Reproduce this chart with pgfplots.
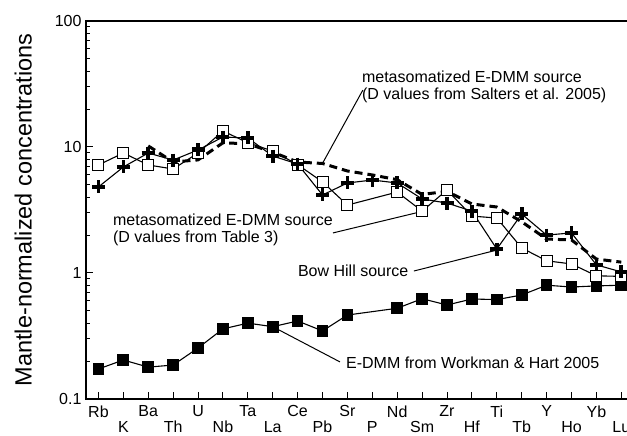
\documentclass[border=0pt]{standalone}
\usepackage{fontspec}
\setmainfont{Liberation Sans}
\usepackage{pgfplots}
\pgfplotsset{compat=1.18}
\usepackage{pgfplotstable}

% Element order: Rb K Ba Th U Nb Ta La Ce Pb Sr P Nd Sm Zr Hf Ti Tb Y Ho Yb Lu  -> 0..21
\pgfplotstableread{
x v
0 4.82
1 6.94
2 8.96
3 7.88
4 9.47
5 12.0
6 11.8
7 8.48
8 7.33
9 4.16
10 5.18
11 5.47
12 5.18
13 3.87
14 3.59
15 3.10
16 1.55
17 2.94
18 2.00
19 2.08
20 1.16
21 1.02
}\bowhill

\pgfplotstableread{
x v
0 7.2
1 8.96
2 7.2
3 6.69
4 8.96
5 13.4
6 10.8
7 9.30
8 7.25
9 5.28
10 3.46
12 4.39
13 3.10
14 4.56
15 2.83
16 2.73
17 1.58
18 1.25
19 1.18
20 0.95
21 0.94
}\tablethree

\pgfplotstableread{
x v
2 10.2
3 7.6
4 7.9
5 10.8
6 10.6
7 9.1
8 7.6
9 7.4
10 6.45
11 6.0
12 5.5
13 4.2
14 4.45
15 3.53
16 3.34
17 2.55
18 1.86
19 1.83
20 1.29
21 1.22
}\salters

\pgfplotstableread{
x v
0 0.173
1 0.204
2 0.179
3 0.186
4 0.254
5 0.36
6 0.40
7 0.375
8 0.416
9 0.347
10 0.464
12 0.525
13 0.625
14 0.557
15 0.622
16 0.615
17 0.669
18 0.80
19 0.774
20 0.79
21 0.80
}\edmm

\newcommand{\lbl}{\fontsize{16}{17}\selectfont}

\begin{document}
\begin{tikzpicture}
\begin{axis}[
  scale only axis, width=546pt, height=378pt,
  ymode=log, ymin=0.1, ymax=100,
  xmin=-0.5, xmax=21.43,
  xtick={0,2,...,20},
  xticklabels={Rb,Ba,U,Ta,Ce,Sr,Nd,Zr,Ti,Y,Yb},
  extra x ticks={1,3,...,21},
  extra x tick labels={K,Th,Nb,La,Pb,P,Sm,Hf,Tb,Ho,Lu},
  extra x tick style={grid=none, xticklabel style={yshift=-15.5pt}},
  ytick={0.1,1,10,100}, yticklabels={0.1,1,10,100},
  xtick pos=bottom, ytick pos=left,
  tick align=inside,
  major tick length=7pt, minor tick length=4.5pt,
  every tick/.style={black, line width=1pt},
  axis line style={line width=1.2pt},
  xticklabel style={font=\lbl, anchor=north, yshift=-3pt},
  yticklabel style={font=\lbl, anchor=east, xshift=-1pt},
  /pgf/number format/assume math mode=true,
  every axis y label/.style={at={(axis description cs:-0.115,0.5)}, rotate=90, anchor=center},
  ylabel={\fontsize{23.5}{26}\selectfont Mantle-normalized concentrations},
  clip=false,
]
% D values from Salters et al. 2005
\addplot[black, line width=3pt, dash pattern=on 8pt off 5pt] table[x=x,y=v] {\salters};
% E-DMM from Workman & Hart 2005
\addplot[black, line width=1.1pt, mark=square*, mark size=5.3pt, mark options={solid, fill=black}] table[x=x,y=v] {\edmm};
% D values from Table 3
\addplot[black, line width=1.1pt, mark=square*, mark size=5.5pt, mark options={solid, fill=white, line width=1pt}] table[x=x,y=v] {\tablethree};
% Bow Hill source
\addplot[black, line width=1.1pt, mark=+, mark size=6.5pt, mark options={solid, line width=3.6pt}] table[x=x,y=v] {\bowhill};

% annotations
\node[anchor=west, align=left, font=\lbl, inner sep=0pt] at (axis cs:10.58,30.2)
  {metasomatized E-DMM source\\(D values from Salters et al. 2005)};
\draw[line width=1pt] (axis cs:10.62,28.3) -- (axis cs:8.98,7.3);

\node[anchor=west, align=left, font=\lbl, inner sep=0pt] at (axis cs:0.58,2.18)
  {metasomatized E-DMM source\\(D values from Table 3)};
\draw[line width=1pt] (axis cs:9.42,2.08) -- (axis cs:12.91,3.05);

\node[anchor=west, font=\lbl, inner sep=0pt] at (axis cs:8.01,1.037) {Bow Hill source};
\draw[line width=1pt] (axis cs:12.67,1.037) -- (axis cs:16.0,1.52);

\node[anchor=west, font=\lbl, inner sep=0pt] at (axis cs:9.94,0.193) {E-DMM from Workman \& Hart 2005};
\draw[line width=1pt] (axis cs:9.70,0.197) -- (axis cs:7.0,0.375);
\end{axis}
\pgfresetboundingbox
\path[use as bounding box] (-86pt,-37pt) rectangle (541pt,399pt);
\end{tikzpicture}
\end{document}
